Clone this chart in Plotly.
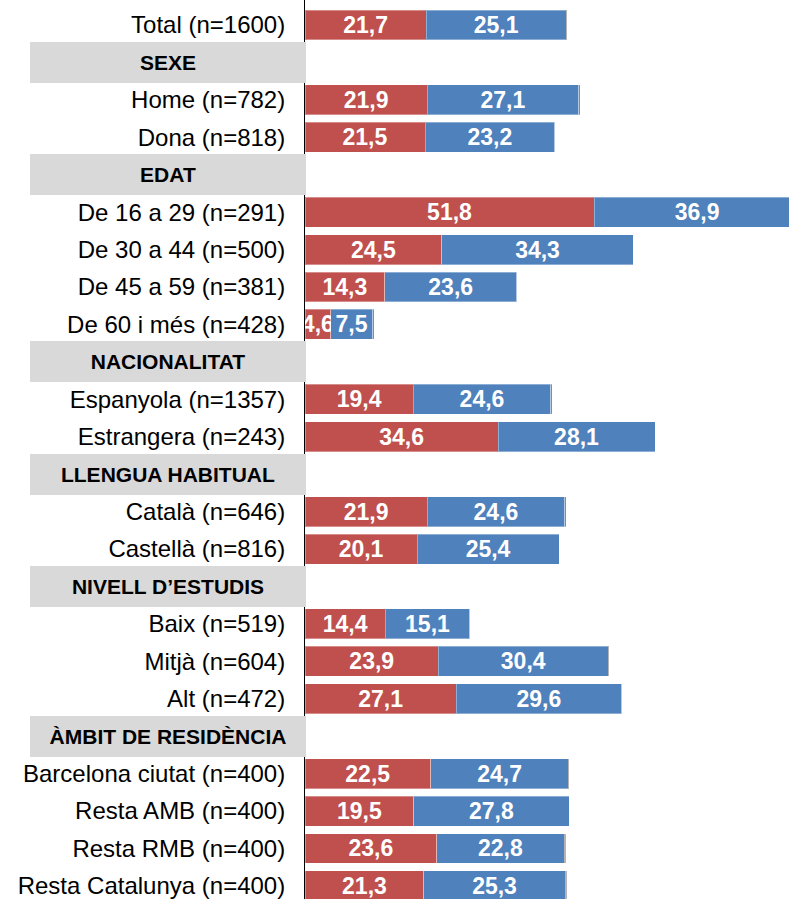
import plotly.graph_objects as go

# rows top to bottom; header rows have no bars
labels = ["Total (n=1600)", "SEXE", "Home (n=782)", "Dona (n=818)", "EDAT",
          "De 16 a 29 (n=291)", "De 30 a 44 (n=500)", "De 45 a 59 (n=381)", "De 60 i més (n=428)",
          "NACIONALITAT", "Espanyola (n=1357)", "Estrangera (n=243)",
          "LLENGUA HABITUAL", "Català (n=646)", "Castellà (n=816)",
          "NIVELL D’ESTUDIS", "Baix (n=519)", "Mitjà (n=604)", "Alt (n=472)",
          "ÀMBIT DE RESIDÈNCIA", "Barcelona ciutat (n=400)", "Resta AMB (n=400)",
          "Resta RMB (n=400)", "Resta Catalunya (n=400)"]
is_header = [False, True, False, False, True, False, False, False, False,
             True, False, False, True, False, False, True, False, False, False,
             True, False, False, False, False]

red_vals = [21.7, None, 21.9, 21.5, None, 51.8, 24.5, 14.3, 4.6, None, 19.4, 34.6,
            None, 21.9, 20.1, None, 14.4, 23.9, 27.1, None, 22.5, 19.5, 23.6, 21.3]
blue_vals = [25.1, None, 27.1, 23.2, None, 36.9, 34.3, 23.6, 7.5, None, 24.6, 28.1,
             None, 24.6, 25.4, None, 15.1, 30.4, 29.6, None, 24.7, 27.8, 22.8, 25.3]
grey_vals = [0.2, None, 0.3, 0, None, 0, 0, 0, 0.3, None, 0.3, 0,
             None, 0.3, 0, None, 0, 0.2, 0.1, None, 0.1, 0, 0.3, 0.3]

RED = "#C0504D"
BLUE = "#4F81BD"
GREY = "#8C8C8C"
FONT = "Liberation Sans, Arial, sans-serif"

ypos = list(range(len(labels)))


def fmt(v):
    return "" if v is None else f"{v:.1f}".replace(".", ",")


fig = go.Figure()
for vals, col, show_text in [(red_vals, RED, True), (blue_vals, BLUE, True), (grey_vals, GREY, False)]:
    fig.add_trace(go.Bar(
        y=ypos, x=vals, orientation="h",
        marker=dict(color=col, line=dict(color="rgba(255,255,255,0.35)", width=1)),
        text=[fmt(v) for v in vals] if show_text else None,
        textposition="inside" if show_text else "none",
        insidetextanchor="middle",
        constraintext="none",
        textangle=0,
        textfont=dict(family=FONT, size=23, color="white", weight="bold"),
        hoverinfo="skip",
        showlegend=False,
    ))

# section header boxes
for i, (lab, h) in enumerate(zip(labels, is_header)):
    if h:
        fig.add_annotation(
            x=0, xref="paper", xanchor="right", xshift=1,
            y=i, yref="y", yanchor="middle",
            text="<b>" + lab + "</b>", showarrow=False,
            width=276, height=41, bgcolor="#D9D9D9",
            borderpad=0, borderwidth=0, align="center",
            font=dict(family=FONT, size=21, color="black"),
        )

fig.update_layout(
    barmode="stack", bargap=0.2,
    width=789, height=899,
    margin=dict(l=305, r=0, t=0, b=0, autoexpand=False),
    plot_bgcolor="white", paper_bgcolor="white",
    xaxis=dict(range=[0, 86.7], visible=False, fixedrange=True, automargin=False),
    yaxis=dict(range=[23.35, -0.668], tickmode="array", tickvals=ypos,
               ticktext=["" if h else lab for lab, h in zip(labels, is_header)],
               showline=True, linecolor="black", linewidth=1,
               showgrid=False, zeroline=False, ticks="",
               automargin=False, ticklabeloverflow="allow",
               ticklabelstandoff=14, fixedrange=True,
               tickfont=dict(family=FONT, size=24, color="black")),
)

# drop the default 8px page margin so the chart sits at the window corner
fig.write_html("out.html", config={"displayModeBar": False},
               post_script="document.body.style.margin='0';document.body.style.overflow='hidden';")
